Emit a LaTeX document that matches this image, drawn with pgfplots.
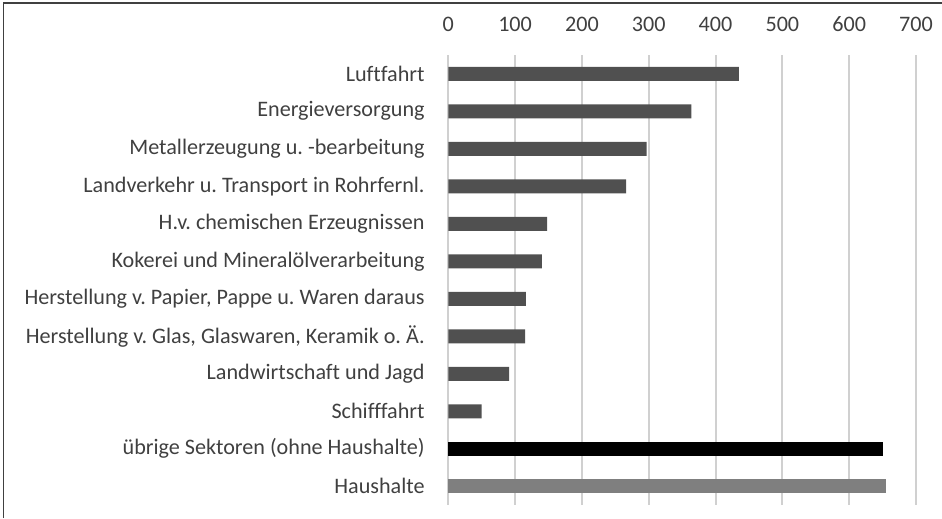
\documentclass[border=0pt]{standalone}
\usepackage{fontspec}
\setmainfont{Carlito}[Ligatures=NoCommon]
\usepackage{pgfplots}
\pgfplotsset{compat=1.18}
\frenchspacing
\definecolor{txt}{HTML}{404040}
\definecolor{barA}{HTML}{505050}
\definecolor{barC}{HTML}{7F7F7F}
\definecolor{gridc}{HTML}{D0D0D0}
\definecolor{frame}{HTML}{404040}
\begin{document}
\begin{tikzpicture}
\useasboundingbox (0,0) rectangle (706.5pt,388.5pt);
\draw[frame, line width=0.9pt] (2.6pt,0) -- (2.6pt,386.2pt) -- (706.5pt,386.2pt);
\begin{axis}[
  at={(336.2pt,9.75pt)}, anchor=south west,
  scale only axis, width=350.8pt, height=337.5pt,
  xbar, bar width=10.5pt, bar shift=0pt,
  y dir=reverse,
  xmin=0, xmax=700, ymin=-0.5, ymax=11.5,
  xtick={0,100,...,700},
  xticklabel pos=upper,
  ytick={0,...,11},
  yticklabels={Luftfahrt,Energieversorgung,Metallerzeugung u. -bearbeitung,Landverkehr u. Transport in Rohrfernl.,H.v. chemischen Erzeugnissen,Kokerei und Mineralölverarbeitung,{Herstellung v. Papier, Pappe u. Waren daraus\hspace{3.8pt}},{Herstellung v. Glas, Glaswaren, Keramik o. Ä.},Landwirtschaft und Jagd,Schifffahrt,übrige Sektoren (ohne Haushalte),Haushalte},
  axis line style={draw=none},
  tick style={draw=none},
  xmajorgrids, grid style={gridc, line width=1.5pt},
  /pgf/number format/assume math mode=true,
  every tick label/.append style={font=\fontsize{16.6}{19}\selectfont, text=txt, inner sep=0pt},
  yticklabel style={anchor=east, xshift=-13.3pt},
  xticklabel style={anchor=base, yshift=17.3pt},
  clip=false,
]
\addplot[fill=barA, draw=none] coordinates {(435,0) (364,1) (297,2) (266,3) (148,4) (140,5) (116,6) (115,7) (91,8) (50,9)};
\addplot[fill=black, draw=none] coordinates {(651,10)};
\addplot[fill=barC, draw=none] coordinates {(655,11)};
\end{axis}
\end{tikzpicture}
\end{document}
